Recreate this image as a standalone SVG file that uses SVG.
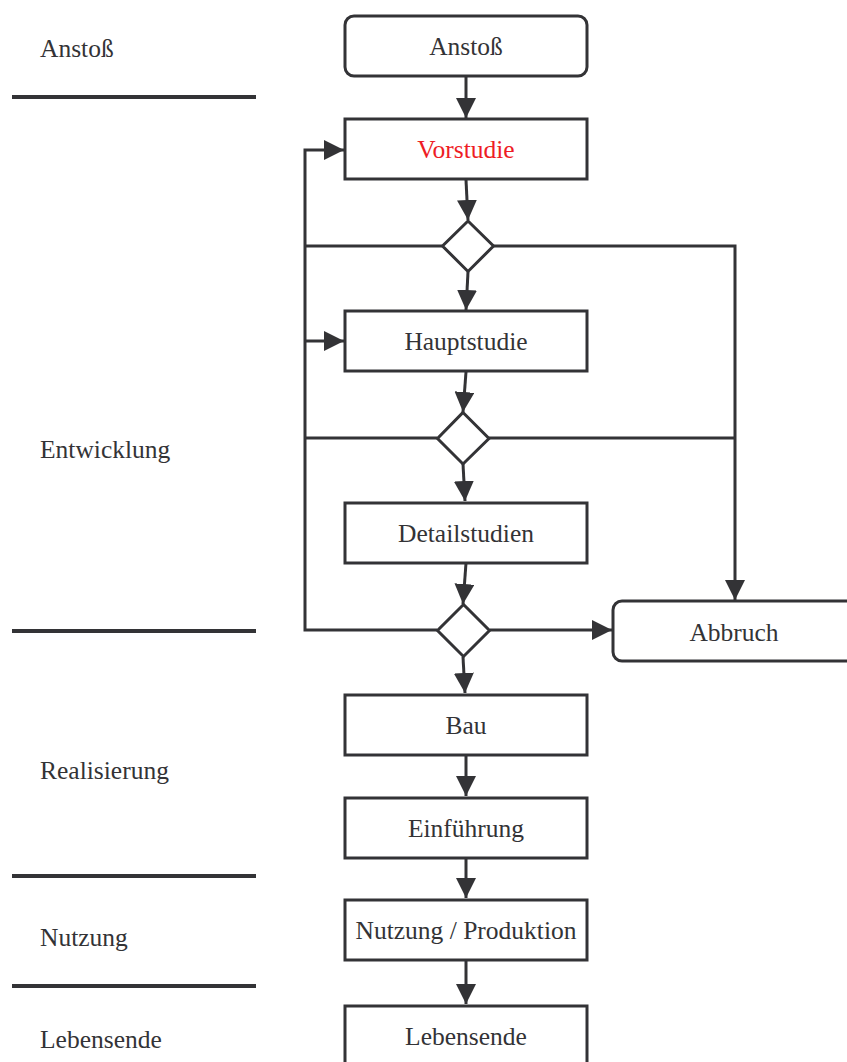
<svg xmlns="http://www.w3.org/2000/svg" width="847" height="1062" viewBox="0 0 847 1062">
  <style>
    .box { fill: #ffffff; stroke: #333336; stroke-width: 3; }
    .dec { fill: #ffffff; stroke: #333336; stroke-width: 3; stroke-linejoin: miter; }
    .lbl { font-size: 25.5px; fill: #333336; }
    .mid { text-anchor: middle; }
    .red { fill: #ee1c25; }
    .sep { stroke: #333336; stroke-width: 4; }
    .wire { fill: none; stroke: #333336; stroke-width: 3; }
  </style>
  <defs>
    <marker id="arrow" markerUnits="userSpaceOnUse" markerWidth="20" markerHeight="20" refX="20" refY="10" orient="auto">
      <path d="M0,0 L20,10 L0,20 Z" fill="#333336"/>
    </marker>
  </defs>
  <rect width="847" height="1062" fill="#ffffff"/>

  <g font-family="'Liberation Serif', 'Times New Roman', 'DejaVu Serif', serif">
  <!-- phase labels and separators -->
  <g id="phases">
    <text class="lbl" x="40" y="57">Anstoß</text>
    <text class="lbl" x="40" y="458">Entwicklung</text>
    <text class="lbl" x="40" y="779">Realisierung</text>
    <text class="lbl" x="40" y="946">Nutzung</text>
    <text class="lbl" x="40" y="1048">Lebensende</text>
    <line class="sep" x1="12" y1="97" x2="256" y2="97"/>
    <line class="sep" x1="12" y1="631" x2="256" y2="631"/>
    <line class="sep" x1="12" y1="876" x2="256" y2="876"/>
    <line class="sep" x1="12" y1="986" x2="256" y2="986"/>
  </g>

  <!-- connectors -->
  <g id="connectors" class="wire">
    <path d="M466,77 L466,118" marker-end="url(#arrow)"/>
    <path d="M466,180 L468,220" marker-end="url(#arrow)"/>
    <path d="M468,272 L466,310" marker-end="url(#arrow)"/>
    <path d="M466,372 L463,412" marker-end="url(#arrow)"/>
    <path d="M463,464 L465,501" marker-end="url(#arrow)"/>
    <path d="M466,563 L463,604" marker-end="url(#arrow)"/>
    <path d="M463,657 L465,693" marker-end="url(#arrow)"/>
    <path d="M466,755 L466,796" marker-end="url(#arrow)"/>
    <path d="M466,858 L466,898" marker-end="url(#arrow)"/>
    <path d="M466,960 L466,1004" marker-end="url(#arrow)"/>
    <!-- feedback loop on the left -->
    <path d="M442,246 L305,246"/>
    <path d="M437,438 L305,438"/>
    <path d="M437,630 L305,630 L305,150 L344,150" marker-end="url(#arrow)"/>
    <path d="M305,341 L344,341" marker-end="url(#arrow)"/>
    <!-- abort paths on the right -->
    <path d="M493,246 L735,246 L735,600" marker-end="url(#arrow)"/>
    <path d="M489,438 L735,438"/>
    <path d="M490,630 L612,630" marker-end="url(#arrow)"/>
  </g>

  <g id="anstoss">
    <rect class="box" x="345" y="16" width="242" height="60" rx="9"/>
    <text class="lbl mid" x="466" y="55">Anstoß</text>
  </g>
  <g id="vorstudie">
    <rect class="box" x="345" y="119" width="242" height="60"/>
    <text class="lbl mid red" x="466" y="158">Vorstudie</text>
  </g>
  <g id="decision1">
    <path class="dec" d="M468,221 L493.5,246 L468,271.5 L442.5,246 Z"/>
  </g>
  <g id="hauptstudie">
    <rect class="box" x="345" y="311" width="242" height="60"/>
    <text class="lbl mid" x="466" y="350">Hauptstudie</text>
  </g>
  <g id="decision2">
    <path class="dec" d="M463,412.5 L489,438.5 L463,464 L437.5,438.5 Z"/>
  </g>
  <g id="detailstudien">
    <rect class="box" x="345" y="503" width="242" height="60"/>
    <text class="lbl mid" x="466" y="542">Detailstudien</text>
  </g>
  <g id="decision3">
    <path class="dec" d="M463.5,604.5 L489.5,630.5 L463.5,656.5 L437.5,630.5 Z"/>
  </g>
  <g id="abbruch">
    <rect class="box" x="613" y="601" width="242" height="60" rx="9"/>
    <text class="lbl mid" x="734" y="641">Abbruch</text>
  </g>
  <g id="bau">
    <rect class="box" x="345" y="695" width="242" height="60"/>
    <text class="lbl mid" x="466" y="734">Bau</text>
  </g>
  <g id="einfuehrung">
    <rect class="box" x="345" y="798" width="242" height="60"/>
    <text class="lbl mid" x="466" y="837">Einführung</text>
  </g>
  <g id="nutzung">
    <rect class="box" x="345" y="900" width="242" height="60"/>
    <text class="lbl mid" x="466" y="939">Nutzung / Produktion</text>
  </g>
  <g id="lebensende">
    <rect class="box" x="345" y="1006" width="242" height="60"/>
    <text class="lbl mid" x="466" y="1045">Lebensende</text>
  </g>
  </g>
</svg>
